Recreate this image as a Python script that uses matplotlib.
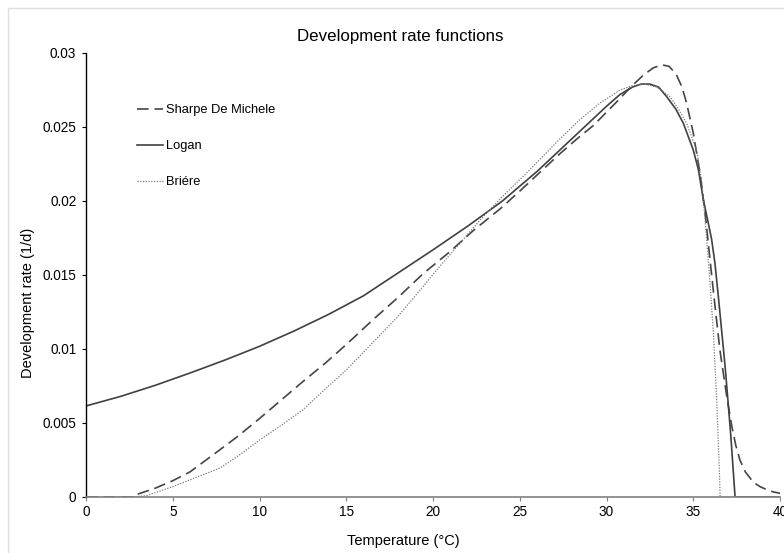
import matplotlib
matplotlib.use('Agg')
import matplotlib.pyplot as plt
from matplotlib.patches import Rectangle

plt.rcParams['font.family'] = ['Liberation Sans', 'DejaVu Sans']

# values (temperature in degC, rate in 1/d)
sharpe_t = [0, 2.7, 3.0, 4.0, 5.0, 6.0, 7.5, 8.75, 10.0, 11.2, 12.5, 13.75, 15.0,
            16.56, 18.0, 19.44, 20.9, 22.32, 23.9, 25.4, 26.4, 27.32, 28.3, 29.24,
            30.0, 30.59, 31.4, 32.12, 32.7, 33.2, 33.6, 34.0, 34.35, 34.62, 35.0,
            35.4, 35.7, 36.06, 36.3, 36.54, 36.93, 37.22, 37.45, 37.69, 38.0, 38.46,
            38.85, 39.23, 39.6, 40.0]
sharpe_r = [0, 0, 0.0002, 0.0006, 0.0011, 0.0017, 0.0030, 0.0041, 0.0053, 0.0065,
            0.0078, 0.0090, 0.0103, 0.0120, 0.0135, 0.0151, 0.0165, 0.0180, 0.0195,
            0.0211, 0.0222, 0.0232, 0.0242, 0.0251, 0.0260, 0.0267, 0.0277, 0.0285,
            0.0290, 0.0292, 0.0291, 0.0286, 0.0277, 0.0266, 0.0246, 0.0218, 0.0190,
            0.0150, 0.0124, 0.0099, 0.0068, 0.0048, 0.0035, 0.0025, 0.0017, 0.0010,
            0.0007, 0.0005, 0.00035, 0.00025]

logan_t = [0, 2, 4, 6, 8, 10, 12, 14, 16, 18, 20, 22, 24, 26, 27, 28, 29, 30, 30.78,
           31.5, 32.0, 32.5, 33.0, 33.47, 34.0, 34.43, 35.0, 35.3, 35.58, 35.85,
           36.06, 36.25, 36.45, 36.64, 36.83, 36.93, 37.05, 37.16, 37.28, 37.41, 40.0]
logan_r = [0.00615, 0.0068, 0.00755, 0.00838, 0.00925, 0.01018, 0.01122, 0.01235,
           0.0136, 0.01515, 0.0167, 0.0183, 0.0200, 0.0220, 0.0231, 0.0242, 0.0253,
           0.0264, 0.0272, 0.0277, 0.0279, 0.0279, 0.0277, 0.02705, 0.0262, 0.02525,
           0.02345, 0.0221, 0.0201, 0.0186, 0.0174, 0.0158, 0.0135, 0.0112, 0.0089,
           0.0075, 0.0058, 0.0042, 0.0022, 0.0, 0.0]

briere_t = [0, 2.7, 3.5, 5.0, 6.3, 7.69, 8.8, 10.0, 11.2, 12.49, 13.7, 15.0, 16.5,
            17.9, 19.2, 20.4, 21.6, 22.7, 24.0, 25.4, 26.4, 27.32, 28.47, 29.6,
            30.78, 31.5, 32.2, 32.9, 33.66, 34.1, 34.62, 35.2, 35.5, 35.75, 35.97,
            36.16, 36.35, 36.5, 36.55, 40.0]
briere_r = [0, 0, 0.0001, 0.0007, 0.0013, 0.00194, 0.0028, 0.00385, 0.0048, 0.00588,
            0.0072, 0.00858, 0.0104, 0.0121, 0.0139, 0.0156, 0.0172, 0.0187, 0.0203,
            0.0219, 0.0231, 0.0242, 0.0255, 0.0266, 0.0275, 0.0278, 0.0279, 0.0277,
            0.02705, 0.0263, 0.02525, 0.0234, 0.0212, 0.0178, 0.0144, 0.0111, 0.0066,
            0.0020, 0.0, 0.0]

fig = plt.figure(figsize=(7.84, 5.53), dpi=100)
ax = fig.add_axes([86 / 784, 1 - 497 / 553, (780 - 86) / 784, (497 - 53) / 553])

# faint frame round the (cropped) original chart area
fig.patches.append(Rectangle((8 / 784, -0.1), 1.2, 1.1 - 8 / 553, transform=fig.transFigure,
                             fill=False, edgecolor='#dedede', linewidth=1.0))

ax.plot(sharpe_t, sharpe_r, color='#454545', lw=1.2, dashes=(7, 3.5), label='Sharpe De Michele')
ax.plot(logan_t, logan_r, color='#404040', lw=1.2, label='Logan')
ax.plot(briere_t, briere_r, color='#7a7a7a', lw=0.9, linestyle=(0, (1, 1.2)), label='Briére')

ax.set_xlim(0, 40)
ax.set_ylim(0, 0.03)
ax.set_xticks(range(0, 41, 5))
ax.set_yticks([0, 0.005, 0.01, 0.015, 0.02, 0.025, 0.03])
ax.set_yticklabels(['0', '0.005', '0.01', '0.015', '0.02', '0.025', '0.03'])

for s in ['top', 'right']:
    ax.spines[s].set_visible(False)
ax.spines['left'].set_color('black')
ax.spines['left'].set_linewidth(1.0)
ax.spines['bottom'].set_color('#808080')
ax.spines['bottom'].set_linewidth(1.2)
ax.tick_params(axis='both', direction='out', length=3, width=0.8, labelsize=9.8, colors='black')
ax.tick_params(axis='y', pad=4)
ax.tick_params(axis='x', pad=3, color='#808080')

fig.text(400 / 784, 1 - 36 / 553, 'Development rate functions', ha='center', va='center', fontsize=12.2)
fig.text(28 / 784, 1 - 303 / 553, 'Development rate (1/d)', rotation=90, ha='center', va='center',
         fontsize=10.5)
fig.text(403 / 784, 1 - 541 / 553, 'Temperature (°C)', ha='center', va='center', fontsize=10.5)

ax.legend(loc='upper left', bbox_to_anchor=(132 / 784, 1 - 99 / 553), bbox_transform=fig.transFigure,
          frameon=False, fontsize=9.3, handlelength=2.0, handletextpad=0.2, labelspacing=1.85,
          borderaxespad=0)

fig.savefig('out.png', dpi=100)
